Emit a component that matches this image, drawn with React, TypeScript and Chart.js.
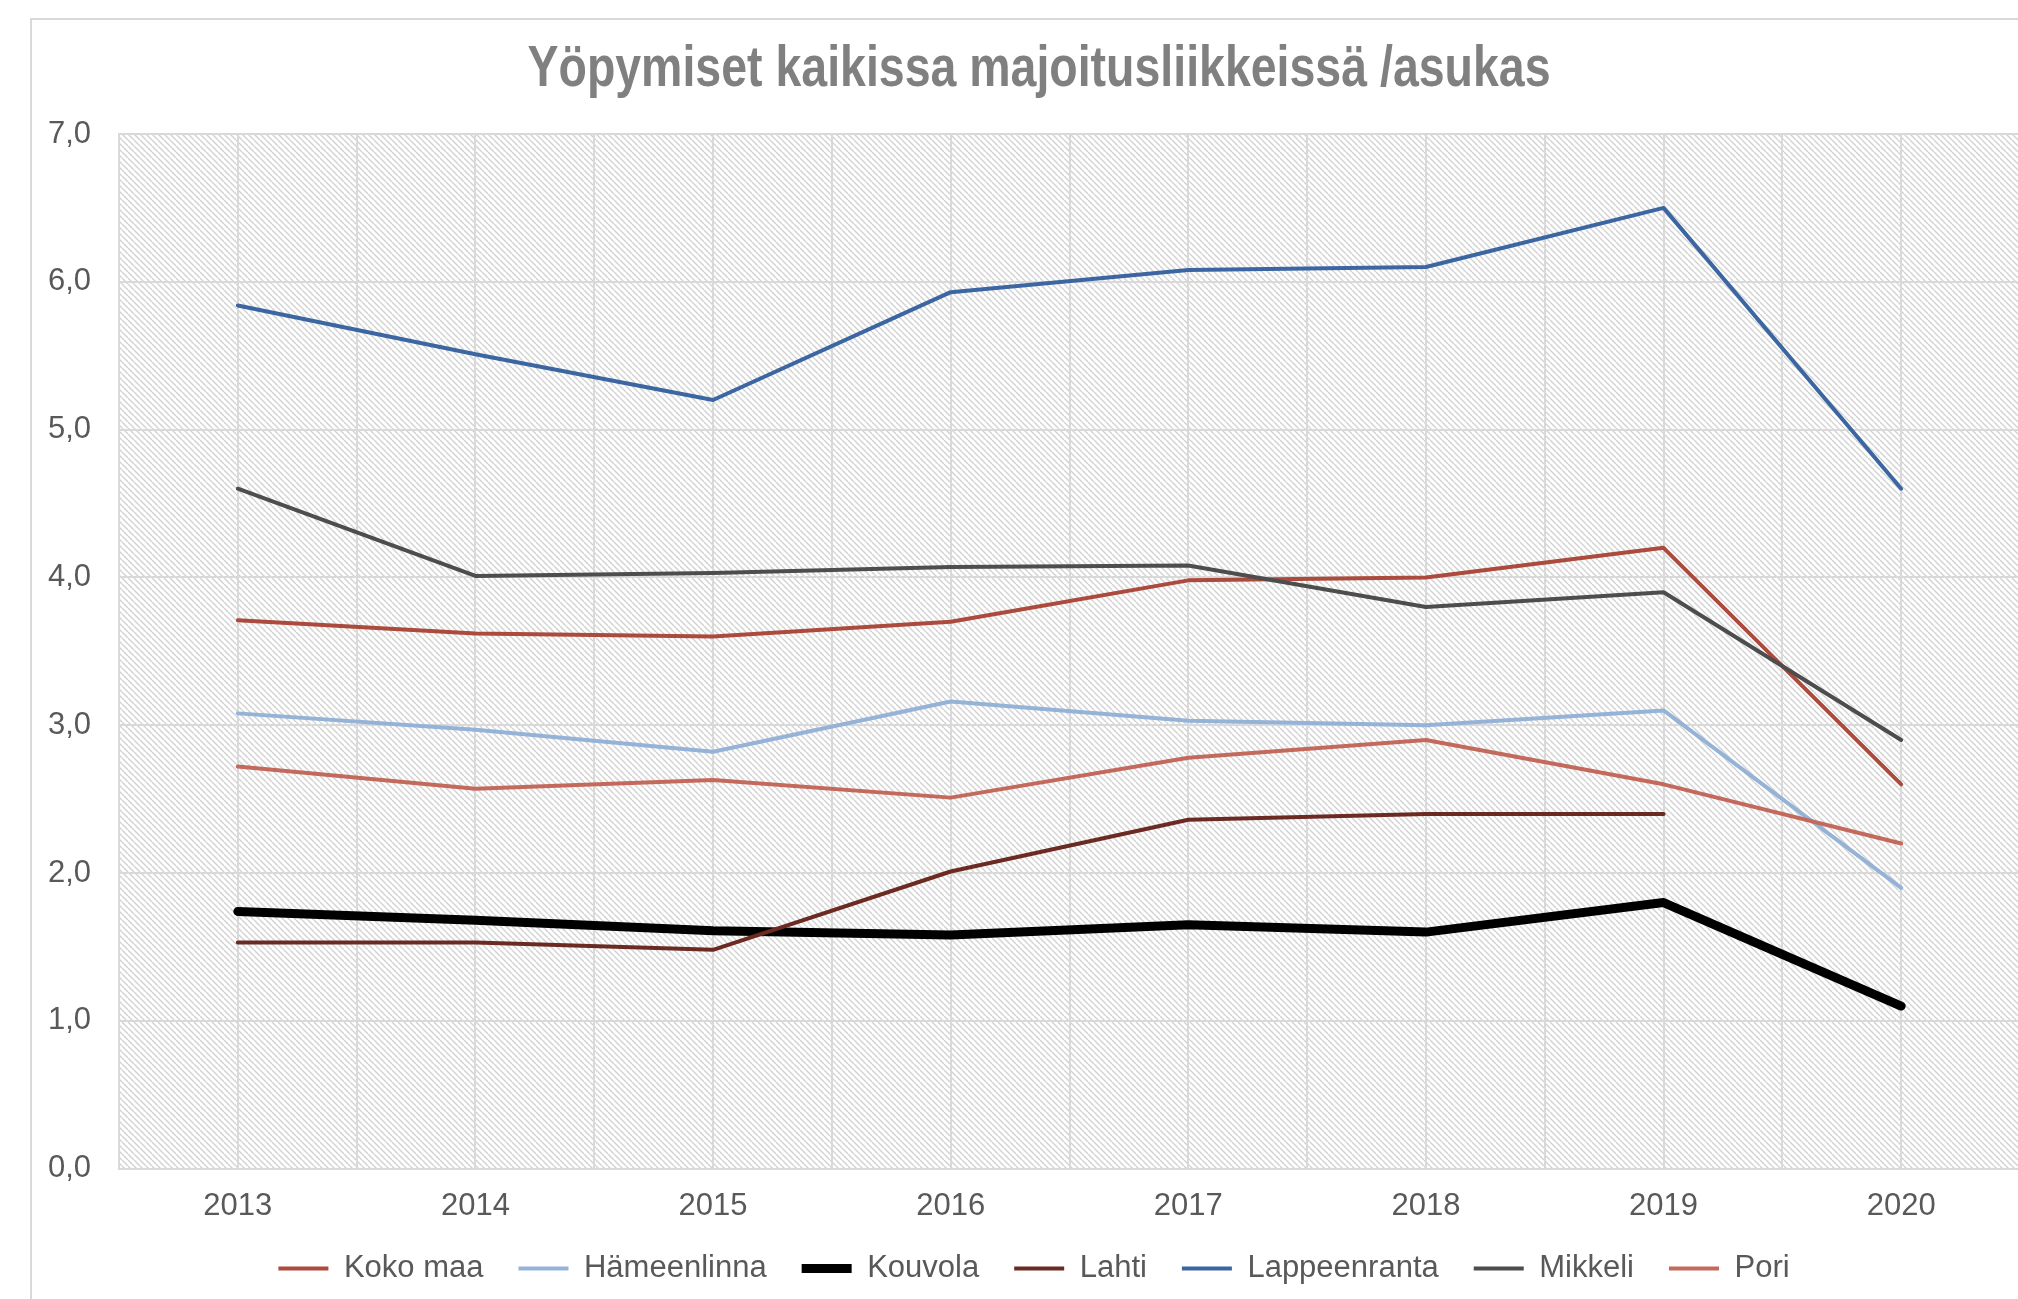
import React, { useEffect, useRef } from 'react';
import { Chart, registerables } from 'chart.js';

Chart.register(...registerables);

const title = 'Yöpymiset kaikissa majoitusliikkeissä /asukas';
const years = [2013, 2014, 2015, 2016, 2017, 2018, 2019, 2020];
const seriesNames = ['Koko maa', 'Hämeenlinna', 'Kouvola', 'Lahti', 'Lappeenranta', 'Mikkeli', 'Pori'];
const kokoMaa = [3.71, 3.62, 3.6, 3.7, 3.98, 4.0, 4.2, 2.6];
const hameenlinna = [3.08, 2.97, 2.82, 3.16, 3.03, 3.0, 3.1, 1.9];
const kouvola = [1.74, 1.68, 1.61, 1.58, 1.65, 1.6, 1.8, 1.1];
const lahti = [1.53, 1.53, 1.48, 2.01, 2.36, 2.4, 2.4, null];
const lappeenranta = [5.84, 5.51, 5.2, 5.93, 6.08, 6.1, 6.5, 4.6];
const mikkeli = [4.6, 4.01, 4.03, 4.07, 4.08, 3.8, 3.9, 2.9];
const pori = [2.72, 2.57, 2.63, 2.51, 2.78, 2.9, 2.6, 2.2];
const yMin = 0;
const yMax = 7;

const seriesValues = [kokoMaa, hameenlinna, kouvola, lahti, lappeenranta, mikkeli, pori];
const seriesColors = ['#ab4a3d', '#95b3d7', '#000000', '#6b2b22', '#3c66a1', '#4d4d4d', '#c46a5d'];
const seriesWidths = [4, 4, 9, 4, 4, 4, 4];

const FONT = "'Liberation Sans', Arial, sans-serif";
const W = 2018;
const H = 1290;

const hatchPlugin = {
  id: 'hatchBg',
  beforeDraw(chart: any) {
    const { ctx, chartArea } = chart;
    if (!chartArea) return;
    const size = 6;
    const tile = document.createElement('canvas');
    tile.width = size;
    tile.height = size;
    const t = tile.getContext('2d')!;
    t.fillStyle = '#ffffff';
    t.fillRect(0, 0, size, size);
    t.strokeStyle = '#d2d2d2';
    t.lineWidth = 1.4;
    for (const a of [-size, 0, size]) {
      t.beginPath();
      t.moveTo(a, 0);
      t.lineTo(a + size, size);
      t.stroke();
    }
    const pat = ctx.createPattern(tile, 'repeat');
    ctx.save();
    ctx.fillStyle = pat;
    ctx.fillRect(chartArea.left, chartArea.top, chartArea.right - chartArea.left, chartArea.bottom - chartArea.top);
    ctx.restore();
  },
};

const titlePlugin = {
  id: 'condensedTitle',
  afterDraw(chart: any) {
    const { ctx } = chart;
    ctx.save();
    ctx.font = `bold 57px ${FONT}`;
    ctx.fillStyle = '#808080';
    ctx.textAlign = 'center';
    ctx.textBaseline = 'middle';
    ctx.fillText(title, 1007, 50, 1023);
    ctx.restore();
  },
};

export default function App() {
  const ref = useRef<HTMLCanvasElement>(null);

  useEffect(() => {
    if (!ref.current) return;
    const n = seriesNames.length;
    const datasets = seriesNames.map((name, i) => ({
      label: name,
      data: years.map((yr, j) => ({ x: yr, y: seriesValues[i][j] })),
      borderColor: seriesColors[i],
      backgroundColor: seriesColors[i],
      borderWidth: seriesWidths[i],
      borderCapStyle: 'round',
      borderJoinStyle: 'round',
      pointRadius: 0,
      pointHoverRadius: 0,
      tension: 0,
      fill: false,
      spanGaps: false,
      order: n - 1 - i,
    }));

    const chart = new Chart(ref.current, {
      type: 'line',
      data: { datasets } as any,
      plugins: [hatchPlugin, titlePlugin],
      options: {
        animation: false,
        responsive: false,
        devicePixelRatio: 1,
        events: [],
        layout: { padding: { left: 16, right: 30, top: 114, bottom: 16 } },
        plugins: {
          tooltip: { enabled: false },
          title: { display: false },
          legend: {
            display: true,
            position: 'bottom',
            labels: {
              usePointStyle: true,
              pointStyle: 'line',
              pointStyleWidth: 50,
              padding: 35,
              color: '#595959',
              font: { family: FONT, size: 31 },
              sort: (a: any, b: any) => a.datasetIndex - b.datasetIndex,
            },
          },
        },
        scales: {
          x: {
            type: 'linear',
            min: years[0] - 0.5,
            max: years[years.length - 1] + 0.5,
            grid: { color: '#d9d9d9', lineWidth: 2, drawTicks: false },
            border: { display: true, color: '#d9d9d9', width: 2 },
            afterFit: (scale: any) => {
              scale.height = 49.4;
            },
            ticks: {
              stepSize: 0.5,
              autoSkip: false,
              maxRotation: 0,
              padding: 25.6,
              color: '#595959',
              font: { family: FONT, size: 31, lineHeight: 0.768 },
              callback: (v: any) => (Number.isInteger(v) ? String(v) : ''),
            },
          },
          y: {
            min: yMin,
            max: yMax,
            grid: { color: '#d9d9d9', lineWidth: 2, drawTicks: false },
            border: { display: true, color: '#d9d9d9', width: 2 },
            afterFit: (scale: any) => {
              scale.width = 71;
            },
            ticks: {
              stepSize: 1,
              padding: 28,
              color: '#595959',
              font: { family: FONT, size: 31 },
              callback: (v: any) => Number(v).toFixed(1).replace('.', ','),
            },
          },
        },
      } as any,
    });
    return () => chart.destroy();
  }, []);

  return (
    <div style={{ position: 'fixed', left: 0, top: 0, right: 0, bottom: 0, overflow: 'hidden', background: '#ffffff' }}>
      <div
        style={{
          position: 'absolute',
          left: 30,
          top: 18,
          width: W,
          height: H,
          border: '2px solid #d9d9d9',
        }}
      >
        <canvas ref={ref} width={W} height={H} style={{ display: 'block', width: W, height: H }} />
      </div>
    </div>
  );
}
